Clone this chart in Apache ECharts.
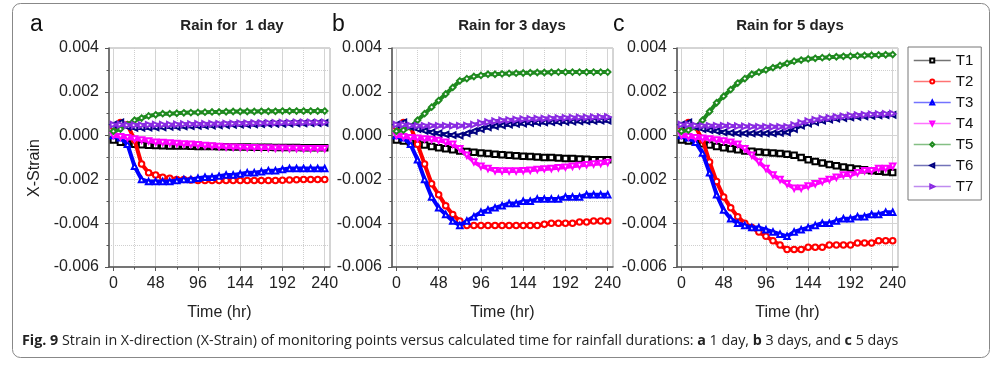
<!DOCTYPE html>
<html><head><meta charset="utf-8">
<script src="https://cdn.jsdelivr.net/npm/echarts@6/dist/echarts.min.js"></script>
<style>html,body{margin:0;padding:0;background:#fff}#c{width:1000px;height:367px}</style>
</head><body><div id="c"></div><script>
// ---- data ----
const hours = [0,8,16,24,32,40,48,56,64,72,80,88,96,104,112,120,128,136,144,152,160,168,176,184,192,200,208,216,224,232,240];
const timeTicks = [0,48,96,144,192,240];
const timeMinorTicks = [24,72,120,168,216];
const seriesNames = ['T1','T2','T3','T4','T5','T6','T7'];
const panelLetters = ['a','b','c'];
const panelTitles = ['Rain for  1 day','Rain for 3 days','Rain for 5 days'];

// Panel a: rain for 1 day
const a_T1 = [-0.0002,-0.0003,-0.00038,-0.0004,-0.00042,-0.00044,-0.00045,-0.00046,-0.00047,-0.00048,-0.00048,-0.00049,-0.0005,-0.0005,-0.0005,-0.00051,-0.00051,-0.00052,-0.00052,-0.00052,-0.00053,-0.00053,-0.00053,-0.00054,-0.00054,-0.00054,-0.00054,-0.00055,-0.00055,-0.00055,-0.00055];
const a_T2 = [0.0004,0.0006,0.0005,-0.0002,-0.0013,-0.0017,-0.0018,-0.0019,-0.00195,-0.002,-0.002,-0.00203,-0.00205,-0.00205,-0.00205,-0.00205,-0.00205,-0.00205,-0.00205,-0.00205,-0.00205,-0.00205,-0.00205,-0.00205,-0.00204,-0.00203,-0.00202,-0.00201,-0.002,-0.002,-0.002];
const a_T3 = [0,-0.0001,-0.0004,-0.0014,-0.002,-0.0021,-0.0021,-0.0021,-0.0021,-0.00205,-0.002,-0.002,-0.00195,-0.0019,-0.0019,-0.00185,-0.0018,-0.0018,-0.00175,-0.0017,-0.0017,-0.00165,-0.0016,-0.0016,-0.00155,-0.0015,-0.0015,-0.0015,-0.0015,-0.0015,-0.0015];
const a_T4 = [0,-0.00005,-0.0001,-0.00015,-0.0002,-0.00025,-0.0003,-0.00032,-0.00034,-0.00036,-0.00038,-0.0004,-0.00042,-0.00045,-0.00047,-0.0005,-0.00052,-0.00053,-0.00054,-0.00055,-0.00056,-0.00057,-0.00057,-0.00058,-0.00058,-0.00059,-0.00059,-0.0006,-0.0006,-0.0006,-0.0006];
const a_T5 = [0.0002,0.0003,0.0005,0.0007,0.0008,0.0009,0.00095,0.001,0.001,0.00102,0.00104,0.00105,0.00106,0.00107,0.00108,0.00108,0.00109,0.0011,0.0011,0.0011,0.0011,0.00111,0.00111,0.00111,0.00112,0.00112,0.00112,0.00112,0.00112,0.00112,0.00112];
const a_T6 = [0.0005,0.0006,0.0004,0.00035,0.00035,0.00036,0.00037,0.00038,0.0004,0.0004,0.00042,0.00043,0.00044,0.00045,0.00046,0.00047,0.00048,0.00049,0.0005,0.0005,0.00051,0.00052,0.00053,0.00054,0.00054,0.00055,0.00056,0.00056,0.00057,0.00057,0.00058];
const a_T7 = [0.0005,0.0005,0.00048,0.00048,0.00048,0.00049,0.0005,0.0005,0.0005,0.00051,0.00052,0.00052,0.00053,0.00053,0.00054,0.00054,0.00055,0.00055,0.00056,0.00056,0.00057,0.00057,0.00058,0.00058,0.00059,0.00059,0.0006,0.0006,0.0006,0.0006,0.0006];

// Panel b: rain for 3 days
const b_T1 = [-0.0002,-0.00025,-0.0003,-0.00037,-0.00043,-0.0005,-0.00055,-0.0006,-0.00065,-0.0007,-0.00073,-0.00076,-0.0008,-0.00082,-0.00085,-0.00088,-0.0009,-0.00092,-0.00094,-0.00096,-0.00098,-0.001,-0.001,-0.00102,-0.00104,-0.00105,-0.00107,-0.00108,-0.0011,-0.0011,-0.0011];
const b_T2 = [0.0004,0.0006,0.0004,-0.0004,-0.0013,-0.0022,-0.0027,-0.0032,-0.0036,-0.0039,-0.0041,-0.0041,-0.0041,-0.0041,-0.0041,-0.0041,-0.0041,-0.0041,-0.0041,-0.0041,-0.0041,-0.00405,-0.004,-0.004,-0.004,-0.004,-0.00395,-0.00395,-0.0039,-0.0039,-0.0039];
const b_T3 = [0,-0.0001,-0.0004,-0.0011,-0.002,-0.0028,-0.0033,-0.0036,-0.0039,-0.0041,-0.0039,-0.0037,-0.0035,-0.0034,-0.0033,-0.0032,-0.0031,-0.0031,-0.003,-0.003,-0.0029,-0.0029,-0.0029,-0.0029,-0.0028,-0.0028,-0.0028,-0.0027,-0.0027,-0.0027,-0.0027];
const b_T4 = [0,-0.00005,-0.0001,-0.00012,-0.00015,-0.00018,-0.00022,-0.0003,-0.0004,-0.0006,-0.0009,-0.0012,-0.0014,-0.0015,-0.0016,-0.00162,-0.00162,-0.00162,-0.0016,-0.00158,-0.00155,-0.00152,-0.0015,-0.00147,-0.00144,-0.0014,-0.00137,-0.00133,-0.0013,-0.00127,-0.00123];
const b_T5 = [0.0002,0.00025,0.0004,0.0007,0.001,0.0013,0.0016,0.0019,0.0022,0.0025,0.0026,0.0027,0.00275,0.0028,0.0028,0.00282,0.00284,0.00285,0.00286,0.00287,0.00288,0.00288,0.00289,0.0029,0.0029,0.0029,0.0029,0.0029,0.0029,0.0029,0.0029];
const b_T6 = [0.0005,0.0006,0.0004,0.0003,0.00022,0.00015,0.0001,0.00005,0.00002,0,0.0001,0.0002,0.0003,0.00038,0.00043,0.00047,0.0005,0.00053,0.00055,0.00057,0.00059,0.0006,0.00061,0.00062,0.00063,0.00064,0.00065,0.00066,0.00067,0.00068,0.00068];
const b_T7 = [0.0005,0.0005,0.00046,0.00045,0.00045,0.00045,0.00045,0.00045,0.00045,0.00045,0.00046,0.0005,0.00057,0.00062,0.00066,0.00069,0.00071,0.00073,0.00075,0.00076,0.00077,0.00078,0.00079,0.0008,0.00081,0.00082,0.00083,0.00083,0.00084,0.00084,0.00085];

// Panel c: rain for 5 days
const c_T1 = [-0.0002,-0.00025,-0.0003,-0.00037,-0.00043,-0.0005,-0.00055,-0.0006,-0.00065,-0.0007,-0.00072,-0.00075,-0.00077,-0.0008,-0.00082,-0.00085,-0.0009,-0.001,-0.0011,-0.00118,-0.00125,-0.00132,-0.00138,-0.00143,-0.00148,-0.00152,-0.00156,-0.0016,-0.00163,-0.00166,-0.00168];
const c_T2 = [0.0004,0.0006,0.0004,-0.0002,-0.0012,-0.0021,-0.0028,-0.0033,-0.0037,-0.004,-0.0042,-0.0044,-0.0046,-0.0048,-0.005,-0.0052,-0.0052,-0.0052,-0.0051,-0.0051,-0.0051,-0.005,-0.005,-0.005,-0.005,-0.0049,-0.0049,-0.0049,-0.0048,-0.0048,-0.0048];
const c_T3 = [0,-0.0001,-0.0003,-0.0008,-0.0017,-0.0027,-0.0034,-0.0038,-0.004,-0.0041,-0.0042,-0.0042,-0.0043,-0.0044,-0.0045,-0.0046,-0.0044,-0.0043,-0.0042,-0.0041,-0.004,-0.004,-0.0039,-0.0038,-0.0038,-0.0037,-0.0037,-0.0036,-0.0036,-0.0035,-0.0035];
const c_T4 = [0,-0.00005,-0.0001,-0.00012,-0.00015,-0.0002,-0.00025,-0.0003,-0.0004,-0.0006,-0.0009,-0.0012,-0.0015,-0.0018,-0.002,-0.0022,-0.0024,-0.0024,-0.0023,-0.0022,-0.0021,-0.002,-0.0019,-0.0018,-0.0018,-0.0017,-0.0016,-0.0016,-0.0015,-0.0015,-0.0014];
const c_T5 = [0.0002,0.00025,0.0004,0.0007,0.0011,0.0015,0.0018,0.0021,0.0024,0.0026,0.0028,0.0029,0.003,0.0031,0.0032,0.0033,0.0034,0.00345,0.0035,0.00353,0.00356,0.00358,0.0036,0.00362,0.00363,0.00365,0.00366,0.00367,0.00368,0.00369,0.0037];
const c_T6 = [0.0005,0.0006,0.0004,0.0003,0.00025,0.0002,0.00015,0.00012,0.0001,0.0001,0.0001,0.0001,0.0001,0.0001,0.00012,0.00015,0.0003,0.00045,0.00055,0.00062,0.00068,0.00073,0.00077,0.0008,0.00083,0.00086,0.00088,0.0009,0.00092,0.00093,0.00095];
const c_T7 = [0.0005,0.0005,0.00046,0.00045,0.00045,0.00045,0.00045,0.00044,0.00043,0.00042,0.00041,0.0004,0.0004,0.0004,0.0004,0.0004,0.00048,0.00058,0.00066,0.00072,0.00077,0.00081,0.00085,0.00088,0.00091,0.00093,0.00095,0.00097,0.00098,0.00099,0.001];

const panelData = [
  [a_T1,a_T2,a_T3,a_T4,a_T5,a_T6,a_T7],
  [b_T1,b_T2,b_T3,b_T4,b_T5,b_T6,b_T7],
  [c_T1,c_T2,c_T3,c_T4,c_T5,c_T6,c_T7]
];

// ---- styling ----
const FONT = '"Liberation Sans", Arial, Helvetica, sans-serif';
const gridLefts = [109, 392, 677];
const colors = ['#000000','#ff0000','#0000ff','#ff00ff','#1f8a1f','#000080','#8a2be2'];
const symbols = ['emptyRect','emptyCircle','emptyTriangle','emptyTriangle','emptyDiamond','emptyTriangle','emptyTriangle'];
const rotates = [0,0,0,180,0,90,-90];
const axisColor = '#555';

const grids = [], xAxes = [], yAxes = [], series = [], graphics = [];
panelData.forEach((arrs, p) => {
  grids.push({left: gridLefts[p], top: 48, width: 221, height: 219, show: true,
    borderColor: '#aaa', borderWidth: 1, backgroundColor: '#fff'});
  xAxes.push({type: 'value', gridIndex: p, min: -5, max: 246, position: 'bottom',
    axisLine: {show: true, onZero: false, lineStyle: {color: axisColor, width: 1.5}},
    axisTick: {show: true, customValues: timeTicks, length: 4, lineStyle: {color: axisColor}},
    axisLabel: {customValues: timeTicks, fontSize: 16, color: '#222', margin: 9, fontFamily: FONT},
    splitLine: {show: true, lineStyle: {color: '#d4d4d4', width: 1}},
    name: 'Time (hr)', nameLocation: 'middle', nameGap: 38,
    nameTextStyle: {fontSize: 16, color: '#222', fontFamily: FONT}
  });
  xAxes.push({type: 'value', gridIndex: p, min: -5, max: 246, position: 'bottom',
    axisLine: {show: false, onZero: false},
    axisTick: {show: true, customValues: timeMinorTicks, length: 2.5, lineStyle: {color: axisColor}},
    axisLabel: {show: false},
    splitLine: {show: true, lineStyle: {color: '#cfcfcf', width: 1, type: 'dotted'}}
  });
  yAxes.push({type: 'value', gridIndex: p, min: -0.006, max: 0.004, interval: 0.002,
    axisLine: {show: true, onZero: false, lineStyle: {color: axisColor, width: 1.5}},
    axisTick: {show: true, length: 4, lineStyle: {color: axisColor}},
    minorTick: {show: true, splitNumber: 2, length: 2.5, lineStyle: {color: axisColor}},
    splitLine: {show: true, lineStyle: {color: '#d4d4d4', width: 1}},
    minorSplitLine: {show: true, lineStyle: {color: '#cfcfcf', width: 1, type: 'dotted'}},
    axisLabel: {fontSize: 16, color: '#222', margin: 10, fontFamily: FONT,
      formatter: v => Math.abs(v) < 1e-9 ? '0.000' : v.toFixed(3)}
  });
  arrs.forEach((arr, k) => {
    series.push({type: 'line', name: seriesNames[k], xAxisIndex: 2 * p, yAxisIndex: p,
      data: hours.map((h, j) => [h, arr[j]]),
      symbol: symbols[k], symbolRotate: rotates[k], symbolSize: 5.5, showAllSymbol: true,
      lineStyle: {color: colors[k], width: 4},
      itemStyle: {color: colors[k], borderWidth: 1},
      emphasis: {disabled: true}, animation: false, z: 2 + k
    });
  });
});

const titleCenters = [232, 512, 790];
const letterX = [30, 332, 613];
panelTitles.forEach((t, p) => {
  graphics.push({type: 'text', x: titleCenters[p], y: 26, style: {text: t, fill: '#222',
    font: 'bold 15px ' + FONT, textAlign: 'center', textVerticalAlign: 'middle'}});
  graphics.push({type: 'text', x: letterX[p], y: 25, style: {text: panelLetters[p], fill: '#111',
    font: '23px ' + FONT, textAlign: 'left', textVerticalAlign: 'middle'}});
});
graphics.push({type: 'text', x: 35, y: 168, rotation: Math.PI / 2,
  style: {text: 'X-Strain', fill: '#222', font: '16px ' + FONT, textAlign: 'center', textVerticalAlign: 'middle'}});
graphics.push({type: 'rect', shape: {x: 12.5, y: 3.5, width: 977, height: 354, r: 8},
  style: {fill: 'none', stroke: '#888', lineWidth: 1}, z: -10});
graphics.push({type: 'text', x: 22, y: 341, style: {
  text: '{b|Fig. 9} Strain in X-direction (X-Strain) of monitoring points versus calculated time for rainfall durations: {b|a} 1 day, {b|b} 3 days, and {b|c} 5 days',
  fill: '#222', font: '14.3px "Open Sans", sans-serif', textVerticalAlign: 'middle',
  rich: {b: {fontWeight: 'bold', fontSize: 14.3, fontFamily: '"Open Sans", sans-serif', fill: '#222'}}
}});

const chart = echarts.init(document.getElementById('c'));
chart.setOption({
  backgroundColor: '#fff',
  animation: false,
  grid: grids, xAxis: xAxes, yAxis: yAxes, series: series,
  legend: {data: seriesNames, orient: 'vertical', left: 908, top: 47,
    itemWidth: 37, itemHeight: 5, itemGap: 6, padding: [6, 8, 6, 5],
    borderColor: '#777', borderWidth: 1, borderRadius: 0, backgroundColor: '#fff',
    textStyle: {fontSize: 15, color: '#111', fontFamily: FONT},
    lineStyle: {opacity: 0.55, width: 1.5}, selectedMode: false},
  graphic: graphics
});
</script></body></html>
